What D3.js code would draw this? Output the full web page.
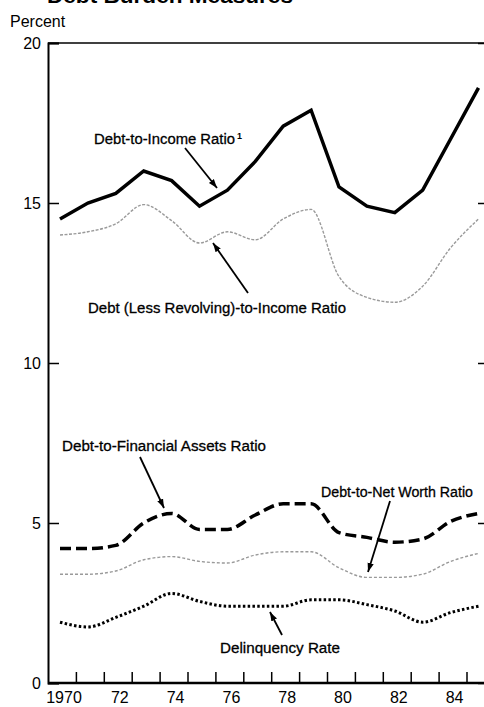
<!DOCTYPE html>
<html>
<head>
<meta charset="utf-8">
<script src="https://cdn.jsdelivr.net/npm/d3@7"></script>
<style>
  body { margin: 0; background: #fff; }
  svg { display: block; font-family: "Liberation Sans", Arial, Helvetica, sans-serif; }
</style>
</head>
<body>
<div class="chart"></div>
<script>
// data (annual, 1970-85, percent)
var years = [1970, 1971, 1972, 1973, 1974, 1975, 1976, 1977, 1978, 1979, 1980, 1981, 1982, 1983, 1984, 1985];
var debtIncome    = [14.5, 15.0, 15.3, 16.0, 15.7, 14.9, 15.4, 16.3, 17.4, 17.9, 15.5, 14.9, 14.7, 15.4, 17.0, 18.6];
var lessRevolving = [14.0, 14.1, 14.35, 14.95, 14.45, 13.75, 14.1, 13.85, 14.5, 14.8, 12.7, 12.05, 11.9, 12.4, 13.6, 14.5];
var finAssets     = [4.2, 4.2, 4.3, 5.0, 5.3, 4.8, 4.8, 5.25, 5.6, 5.6, 4.7, 4.55, 4.4, 4.5, 5.05, 5.3];
var netWorth      = [3.4, 3.4, 3.5, 3.85, 3.95, 3.8, 3.75, 4.0, 4.1, 4.1, 3.6, 3.3, 3.3, 3.4, 3.8, 4.05];
var delinquency   = [1.9, 1.75, 2.05, 2.4, 2.8, 2.55, 2.4, 2.4, 2.4, 2.6, 2.6, 2.45, 2.25, 1.9, 2.2, 2.4];

var yTicks = [0, 5, 10, 15, 20];
var xLabelYears = [1970, 1972, 1974, 1976, 1978, 1980, 1982, 1984];
var xTickYears = [1970, 1971, 1972, 1973, 1974, 1975, 1976, 1977, 1978, 1979, 1980, 1981, 1982, 1983, 1984];

var svgWidth = 484, svgHeight = 707;
var plotLeft = 48, plotRight = 489, plotTop = 43, plotBottom = 683;

var svg = d3.select(".chart").append("svg")
  .attr("width", svgWidth)
  .attr("height", svgHeight);

var x = d3.scaleLinear().domain([1970, 1985]).range([60, 478.5]);
var y = d3.scaleLinear().domain([0, 20]).range([plotBottom, plotTop]);

// cut-off title at the very top
svg.append("text")
  .attr("x", 47).attr("y", 3)
  .attr("font-size", 20).attr("font-weight", "bold")
  .attr("textLength", 246).attr("lengthAdjust", "spacingAndGlyphs")
  .text("Debt Burden Measures");

svg.append("text")
  .attr("x", 10).attr("y", 27)
  .attr("font-size", 16)
  .text("Percent");

// frame
svg.append("line").attr("x1", plotLeft).attr("x2", plotRight)
  .attr("y1", plotTop).attr("y2", plotTop)
  .attr("stroke", "#000").attr("stroke-width", 1.5);
svg.append("line").attr("x1", plotRight).attr("x2", plotRight)
  .attr("y1", plotTop).attr("y2", plotBottom)
  .attr("stroke", "#000").attr("stroke-width", 1.5);

// left axis
var yAxis = d3.axisLeft(y).tickValues(yTicks).tickSize(-11).tickPadding(7);
var gy = svg.append("g").attr("transform", `translate(${plotLeft},0)`).call(yAxis);
gy.select(".domain").attr("stroke-width", 2);
gy.selectAll(".tick line").attr("stroke-width", 1.5);
gy.selectAll("text").attr("font-size", 16).attr("fill", "#000")
  .attr("font-family", "'Liberation Sans', Arial, sans-serif");

// right axis ticks (inward)
var yAxisR = d3.axisRight(y).tickValues(yTicks).tickSize(-11).tickFormat("");
var gyr = svg.append("g").attr("transform", `translate(${plotRight},0)`).call(yAxisR);
gyr.select(".domain").remove();
gyr.selectAll(".tick line").attr("stroke-width", 1.5);

// bottom axis: ticks between years, labels under even years
var xTickAxis = d3.axisBottom(x).tickValues(xTickYears.map(d => d + 0.57)).tickSize(-11).tickFormat("");
var gx = svg.append("g").attr("transform", `translate(0,${plotBottom})`).call(xTickAxis);
gx.select(".domain").attr("d", `M${plotLeft},0H${plotRight}`).attr("stroke-width", 2.5);
gx.selectAll(".tick line").attr("stroke-width", 1.5);

var xLabelAxis = d3.axisBottom(x).tickValues(xLabelYears).tickSize(0).tickPadding(9)
  .tickFormat(d => d === 1970 ? "1970" : String(d).slice(2));
var gxl = svg.append("g").attr("transform", `translate(3.5,${plotBottom})`).call(xLabelAxis);
gxl.select(".domain").remove();
gxl.selectAll("text").attr("font-size", 16).attr("fill", "#000")
  .attr("font-family", "'Liberation Sans', Arial, sans-serif");

// series
function drawLine(values, curve, style) {
  var line = d3.line()
    .x((d, i) => x(years[i]))
    .y(d => y(d))
    .curve(curve);
  var p = svg.append("path")
    .datum(values)
    .attr("fill", "none")
    .attr("d", line);
  Object.keys(style).forEach(k => p.attr(k, style[k]));
}

drawLine(lessRevolving, d3.curveMonotoneX, {"stroke": "#9a9a9a", "stroke-width": 1.4, "stroke-dasharray": "3,1.5"});
drawLine(netWorth, d3.curveMonotoneX, {"stroke": "#9a9a9a", "stroke-width": 1.4, "stroke-dasharray": "3,2"});
drawLine(debtIncome, d3.curveLinear, {"stroke": "#000", "stroke-width": 3.5, "stroke-linejoin": "miter"});
drawLine(finAssets, d3.curveMonotoneX, {"stroke": "#000", "stroke-width": 3.5, "stroke-dasharray": "11,5"});
drawLine(delinquency, d3.curveMonotoneX, {"stroke": "#000", "stroke-width": 3, "stroke-dasharray": "2.5,2.3"});

// annotations
svg.append("defs").append("marker")
  .attr("id", "arrow")
  .attr("viewBox", "0 0 10 10")
  .attr("refX", 10).attr("refY", 5)
  .attr("markerWidth", 9).attr("markerHeight", 9)
  .attr("markerUnits", "userSpaceOnUse")
  .attr("orient", "auto")
  .append("path")
  .attr("d", "M0,1.5L10,5L0,8.5Z")
  .attr("fill", "#000");

var notes = [
  {text: "Debt-to-Income Ratio", sup: "1", x: 94, y: 144, w: 141, from: [185, 148], to: [217, 188]},
  {text: "Debt (Less Revolving)-to-Income Ratio", x: 88, y: 313, w: 258, from: [248, 293], to: [213, 243]},
  {text: "Debt-to-Financial Assets Ratio", x: 62, y: 451, w: 204, from: [140, 457], to: [164, 508]},
  {text: "Debt-to-Net Worth Ratio", x: 321, y: 497, w: 152, from: [390, 501], to: [368, 572]},
  {text: "Delinquency Rate", x: 220, y: 653, w: 120, from: [282, 635], to: [270, 612]}
];

notes.forEach(function(n) {
  svg.append("text")
    .attr("x", n.x).attr("y", n.y)
    .attr("font-size", 15.5)
    .attr("stroke", "#000").attr("stroke-width", 0.3)
    .attr("textLength", n.w).attr("lengthAdjust", "spacingAndGlyphs")
    .text(n.text);
  if (n.sup) {
    svg.append("text")
      .attr("x", n.x + n.w + 2).attr("y", n.y - 5)
      .attr("font-size", 9).attr("font-weight", "bold")
      .text(n.sup);
  }
  svg.append("line")
    .attr("x1", n.from[0]).attr("y1", n.from[1])
    .attr("x2", n.to[0]).attr("y2", n.to[1])
    .attr("stroke", "#000").attr("stroke-width", 1.8)
    .attr("marker-end", "url(#arrow)");
});
</script>
</body>
</html>
